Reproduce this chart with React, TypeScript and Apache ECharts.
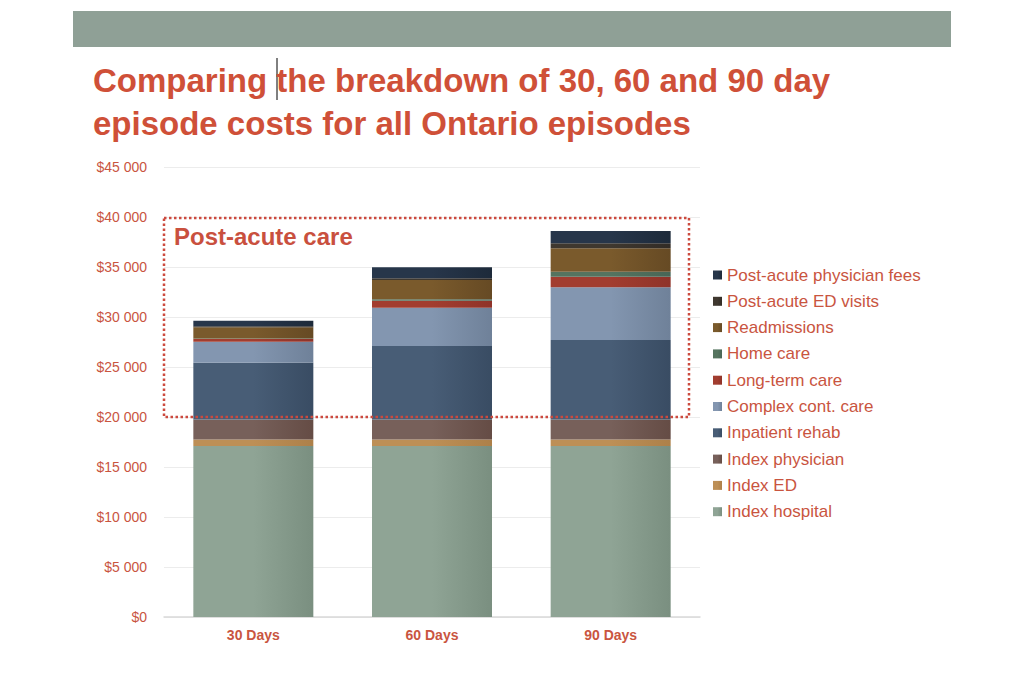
import React, { useEffect, useRef } from "react";
import * as echarts from "echarts";

const categories = ["30 Days", "60 Days", "90 Days"];
const yTicks = [0, 5000, 10000, 15000, 20000, 25000, 30000, 35000, 40000, 45000];

const indexHospital = [17100, 17100, 17100];
const indexED = [650, 650, 650];
const indexPhysician = [2000, 2000, 2000];
const inpatientRehab = [5680, 7350, 7950];
const complexCare = [2100, 3830, 5270];
const longTermCare = [270, 700, 1060];
const homeCare = [50, 140, 500];
const readmissions = [1120, 1930, 2340];
const postAcuteED = [100, 170, 500];
const postAcutePhysician = [560, 1100, 1230];

const seriesNames = [
  "Index hospital",
  "Index ED",
  "Index physician",
  "Inpatient rehab",
  "Complex cont. care",
  "Long-term care",
  "Home care",
  "Readmissions",
  "Post-acute ED visits",
  "Post-acute physician fees",
];
const seriesData = [
  indexHospital,
  indexED,
  indexPhysician,
  inpatientRehab,
  complexCare,
  longTermCare,
  homeCare,
  readmissions,
  postAcuteED,
  postAcutePhysician,
];
const seriesColors: [string, string][] = [
  ["#8fa495", "#7a8f80"],
  ["#bd8f56", "#ad8049"],
  ["#77605a", "#654c45"],
  ["#485d76", "#394c63"],
  ["#8396b0", "#6f8199"],
  ["#a23d2f", "#8f3329"],
  ["#55745f", "#486656"],
  ["#7a5a2c", "#664a24"],
  ["#3f382f", "#322c26"],
  ["#27364a", "#1d2a3a"],
];

const RED = "#c9553f";

export default function App() {
  const ref = useRef<HTMLDivElement>(null);
  useEffect(() => {
    if (!ref.current) return;
    const chart = echarts.init(ref.current, undefined, { renderer: "svg" });
    const series = seriesNames.map((name, i) => ({
      name,
      type: "bar",
      stack: "total",
      barWidth: 120,
      data: seriesData[i],
      itemStyle: {
        color: new echarts.graphic.LinearGradient(0, 0, 1, 0, [
          { offset: 0, color: seriesColors[i][0] },
          { offset: 0.5, color: seriesColors[i][0] },
          { offset: 1, color: seriesColors[i][1] },
        ]),
      },
      emphasis: { disabled: true },
    }));
    chart.setOption({
      animation: false,
      backgroundColor: "#ffffff",
      title: {
        text: "Comparing the breakdown of 30, 60 and 90 day\nepisode costs for all Ontario episodes",
        left: 93,
        top: 59,
        padding: 0,
        textStyle: {
          fontFamily: "Liberation Sans",
          fontWeight: "bold",
          fontSize: 33,
          lineHeight: 43,
          color: "#cf5038",
        },
      },
      grid: { left: 164, right: 322, top: 167, bottom: 77 },
      legend: {
        orient: "vertical",
        left: 708,
        top: 261.5,
        icon: "rect",
        itemWidth: 9,
        itemHeight: 9,
        itemGap: 9.3,
        data: seriesNames.slice().reverse(),
        textStyle: { fontFamily: "Liberation Sans", fontSize: 17, color: RED },
      },
      xAxis: {
        type: "category",
        data: categories,
        axisTick: { show: false },
        axisLine: { lineStyle: { color: "#d9d9d9", width: 1.5 } },
        axisLabel: {
          margin: 11,
          fontFamily: "Liberation Sans",
          fontWeight: "bold",
          fontSize: 14,
          color: RED,
        },
      },
      yAxis: {
        type: "value",
        min: 0,
        max: yTicks[yTicks.length - 1],
        interval: yTicks[1] - yTicks[0],
        axisLine: { show: false },
        axisTick: { show: false },
        splitLine: { lineStyle: { color: "#ececec" } },
        axisLabel: {
          margin: 17,
          fontFamily: "Liberation Sans",
          fontSize: 14,
          color: RED,
          formatter: (v: number) =>
            "$" + String(v).replace(/\B(?=(\d{3})+(?!\d))/g, " "),
        },
      },
      series,
      graphic: [
        {
          type: "rect",
          shape: { x: 73, y: 11, width: 878, height: 36 },
          style: { fill: "#8fa096" },
          z: 0,
        },
        {
          type: "line",
          shape: { x1: 277, y1: 58, x2: 277, y2: 100 },
          style: { stroke: "#000", lineWidth: 1 },
        },
        {
          type: "rect",
          shape: { x: 164, y: 218, width: 525, height: 199 },
          style: {
            fill: "transparent",
            stroke: "#cc4a3e",
            lineWidth: 2.5,
            lineDash: [2.5, 2.5],
          },
          z: 100,
        },
        {
          type: "text",
          x: 174,
          y: 224,
          style: {
            text: "Post-acute care",
            fontFamily: "Liberation Sans",
            fontWeight: "bold",
            fontSize: 24,
            fill: "#c9503e",
          },
          z: 100,
        },
      ],
    });
    return () => chart.dispose();
  }, []);
  return (
    <div
      ref={ref}
      style={{ position: "fixed", left: 0, top: 0, width: 1022, height: 694 }}
    />
  );
}
